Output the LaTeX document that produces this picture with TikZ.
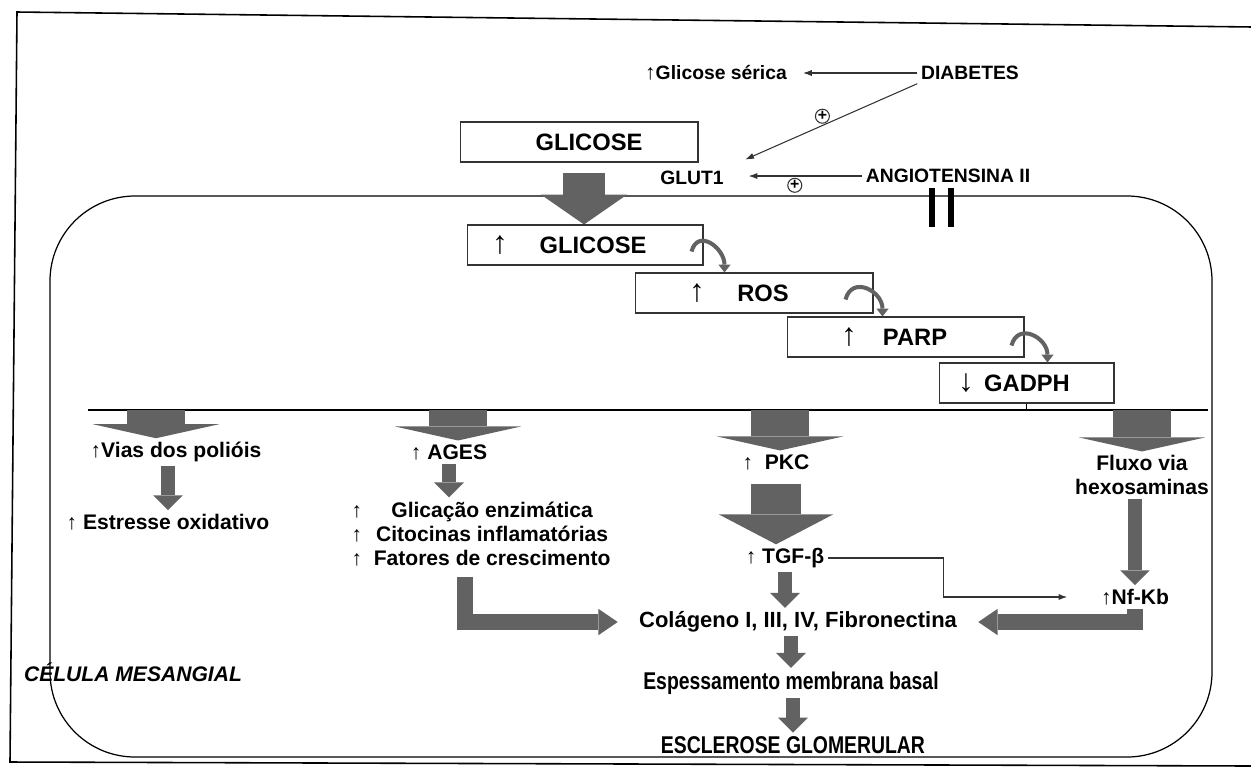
\documentclass[tikz,border=0pt]{standalone}
\usepackage{fontspec}
\setmainfont{Liberation Sans}
\newfontfamily\narrowfont[FakeStretch=0.8]{Liberation Sans}
\usepackage{xcolor}
\definecolor{arrowgray}{RGB}{98,98,98}
\usetikzlibrary{arrows.meta}
\usetikzlibrary{positioning}
\usetikzlibrary{calc}
\newcommand{\upar}{{\normalfont\fontsize{12}{12}\selectfont ↑}}
\newcommand{\boxup}{{\normalfont\fontsize{18}{18}\selectfont ↑}}
\newcommand{\boxdown}{{\normalfont\fontsize{18}{18}\selectfont ↓}}
\tikzset{
	lbl/.style={font=\bfseries\fontsize{12}{13.6}\selectfont, inner sep=2pt},
	toplbl/.style={font=\bfseries\fontsize{11}{12}\selectfont, inner sep=2pt},
	botlbl/.style={font=\bfseries\fontsize{12.5}{14}\selectfont, inner sep=2pt},
	narrowlbl/.style={font=\narrowfont\bfseries\fontsize{13.8}{15}\selectfont, inner sep=2pt},
	boxlbl/.style={font=\bfseries\fontsize{13.5}{16}\selectfont, inner sep=0pt},
	stepbox/.style={draw=black!80, line width=0.6pt, minimum height=0.8cm, inner sep=0pt},
	thinarrow/.style={draw=black!80, line width=0.6pt, -{Latex[length=5pt,width=3.5pt]}},
	plussign/.style={circle, draw, line width=0.6pt, inner sep=0pt, minimum size=0.28cm, font=\bfseries\fontsize{9}{9}\selectfont},
	curlarrow/.style={arrowgray, line width=2.3pt, looseness=1.6, -{Triangle[width=7pt,length=4.5pt,line width=0pt]}},
	entryarrow/.style={arrowgray, line width=24pt, -{Triangle[width=49pt,length=17pt,line width=0pt]}},
	widearrow/.style={arrowgray, line width=33pt, -{Triangle[width=72pt,length=8pt,line width=0pt]}},
	bigarrow/.style={arrowgray, line width=28pt, -{Triangle[width=65pt,length=17pt,line width=0pt]}},
	smallarrow/.style={arrowgray, line width=8.5pt, -{Triangle[width=17pt,length=8.5pt,line width=0pt]}},
	elbowarrow/.style={arrowgray, line width=9.5pt, -{Triangle[width=15pt,length=11pt,line width=0pt]}},
}

\begin{document}
\begin{tikzpicture}[x=0.02cm, y=0.02cm]
	\useasboundingbox (0,0) rectangle (1251,-769);
	
	% frame and cell
	\draw[line width=0.9pt] (1253,-27) -- (17,-12) -- (10,-762) -- (1253,-766);
	\draw[line width=0.7pt, rounded corners=1.7cm] (50,-196) rectangle (1212,-757);
	
	% outside the cell
	\node[toplbl] (sericaT) at (716,-73) {\upar Glicose sérica};
	\node[toplbl] (diabT) at (970,-73) {DIABETES};
	\node[stepbox, minimum width=4.76cm] (glicoseA) at (579,-142) {};
	\node[boxlbl] (glicoseAL) at (589,-142) {GLICOSE};
	\node[toplbl] (glut1T) at (692,-178) {GLUT1};
	\node[toplbl] (angioT) at (948,-176) {ANGIOTENSINA II};
	
	\draw[thinarrow, shorten >=7pt] (diabT.west) -- (sericaT.east);
	\draw[thinarrow, shorten >=11pt] (diabT.south west) -- node[plussign, pos=0.5, above=1pt] (plusA) {+} (glut1T.north east);
	\draw[thinarrow, shorten >=12pt] (angioT.west) -- node[plussign, below=1pt] (plusB) {+} (angioT.west -| glut1T.east);
	
	% blocked entry
	\draw[line width=3.4pt] (932,-188) -- (932,-227);
	\draw[line width=3.4pt] (951,-188) -- (951,-227);
	
	% cascade
	\node[stepbox, minimum width=4.72cm] (glicB) at (585,-245) {};
	\node[boxlbl] (glicBL) at (593,-245) {GLICOSE};
	\node (glicBU) at (500,-245) {\boxup};
	
	\node[stepbox, minimum width=4.76cm] (rosB) at (754,-293) {};
	\node[boxlbl] (rosBL) at (763,-293) {ROS};
	\node (rosBU) at (697,-293) {\boxup};
	
	\node[stepbox, minimum width=4.74cm] (parpB) at (905.5,-337) {};
	\node[boxlbl] (parpBL) at (915,-337) {PARP};
	\node (parpBU) at (849,-337) {\boxup};
	
	\node[stepbox, minimum width=3.5cm] (gadphB) at (1026.5,-383) {};
	\node[boxlbl] (gadphBL) at (1027,-383) {GADPH};
	\node (gadphBU) at (966,-383) {\boxdown};
	
	\coordinate (entryTop) at ($(glicoseA.south)+(5,-10)$);
	\draw[entryarrow] (entryTop) -- (entryTop |- glicB.north);
	
	\draw[curlarrow] ($(glicB.south east)+(-12,14)$) to[out=75,in=90] ($(rosB.north west)+(90,0)$);
	\draw[curlarrow] ($(rosB.south east)+(-28,14)$) to[out=75,in=90] ($(parpB.north west)+(96,0)$);
	\draw[curlarrow] ($(parpB.south east)+(-13,12)$) to[out=75,in=90] ($(gadphB.north west)+(109,0)$);
	
	% branches
	\coordinate (b1) at (156,-410);
	\coordinate (b2) at (458,-410);
	\coordinate (b3) at (780,-410);
	\coordinate (b4) at (1142,-410);
	\draw[line width=0.7pt] (88,-410) -- (1208,-410);
	\draw[line width=0.7pt] (gadphB.south) -- (gadphB.south |- b4);
	
	\node[lbl] (viasT) at (176,-452) {\upar Vias dos polióis};
	\node[lbl] (agesT) at (449,-452) {\upar\ AGES};
	\node[lbl] (pkcT) at (776,-462) {\upar\ \ PKC};
	\node[lbl, align=center] (fluxoT) at (1142,-475) {Fluxo via\\hexosaminas};
	
	\draw[widearrow] (b1) -- (b1 |- viasT.north);
	\draw[widearrow] (b2) -- (b2 |- agesT.north);
	\draw[widearrow] (b3) -- (b3 |- pkcT.north);
	\draw[widearrow] (b4) -- (b4 |- fluxoT.north);
	
	% polyol and AGES
	\node[lbl] (estT) at (168,-522) {\upar\ Estresse oxidativo};
	\node[lbl] (glicT) at (481,-537) {\begin{tabular}{@{}l@{\ \ }c@{}}
			\upar & Glicação enzimática\\
			\upar & Citocinas inflamatórias\\
			\upar & Fatores de crescimento
	\end{tabular}};
	\draw[smallarrow] (viasT.south -| estT.north) -- (estT.north);
	\draw[smallarrow] (agesT.south) -- (agesT.south |- glicT.north);
	
	% PKC and hexosamines
	\node[lbl] (tgfT) at (785,-558) {\upar\ TGF-β};
	\node[lbl] (nfT) at (1135,-597) {\upar Nf-Kb};
	\draw[bigarrow, shorten <=6pt] (pkcT.south) -- (pkcT.south |- tgfT.north);
	\draw[smallarrow] (nfT.north |- fluxoT.south) -- (nfT.north);
	\draw[thinarrow, shorten >=17pt] (tgfT.east) -- ++(115,0) |- (nfT.west);
	
	% matrix
	\node[botlbl] (colT) at (798,-622) {Colágeno I, III, IV, Fibronectina};
	\node[narrowlbl] (espT) at (791,-683) {Espessamento membrana basal};
	\node[narrowlbl] (esclT) at (793,-745) {ESCLEROSE GLOMERULAR};
	\draw[smallarrow] (tgfT.south) -- (tgfT.south |- colT.north);
	\draw[elbowarrow, shorten >=10pt] ($(glicT.south)+(-16,0)$) |- (colT.west);
	\draw[elbowarrow, shorten >=10pt] (nfT.south) |- (colT.east);
	\draw[smallarrow] (espT.north |- colT.south) -- (espT.north);
	\draw[smallarrow] (esclT.north |- espT.south) -- (esclT.north);
	
	\node[font=\bfseries\itshape\fontsize{12}{14}\selectfont] (celT) at (133,-672) {CÉLULA MESANGIAL};
\end{tikzpicture}
\end{document}
